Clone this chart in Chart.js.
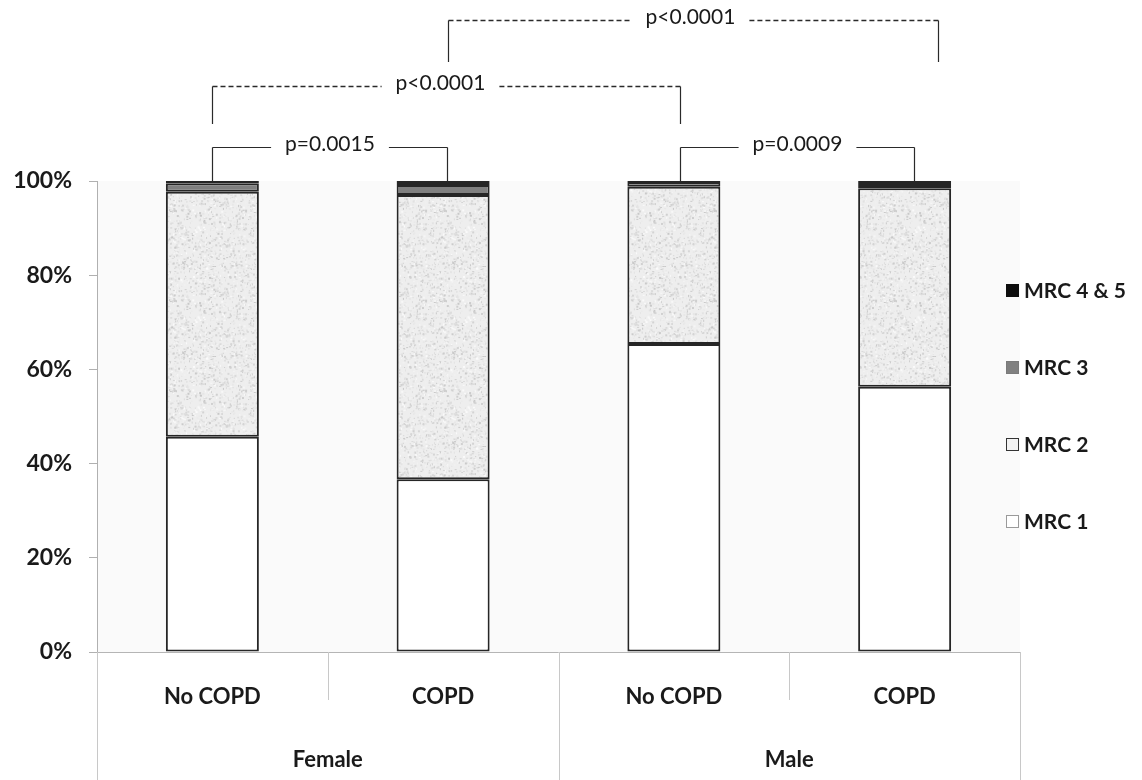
<!DOCTYPE html>
<html>
<head>
<meta charset="utf-8">
<script src="https://cdn.jsdelivr.net/npm/chart.js@4"></script>
<style>
  html, body { margin: 0; padding: 0; background: #ffffff; }
  #wrap { width: 1142px; height: 780px; position: relative; }
</style>
</head>
<body>
<div id="wrap"><canvas id="c" width="1142" height="780"></canvas></div>
<script>
// ---- data ----
const categories = ['No COPD', 'COPD', 'No COPD', 'COPD'];
const groups = ['Female', 'Male'];
const seriesNames = ['MRC 1', 'MRC 2', 'MRC 3', 'MRC 4 & 5'];
const mrc1 = [45.7, 36.7, 65.4, 56.3];
const mrc2 = [52.0, 60.35, 33.4, 42.15];
const mrc3 = [1.8, 2.1, 1.0, 0.7];
const mrc45 = [0.5, 0.85, 0.2, 0.85];
const yTickValues = [0, 20, 40, 60, 80, 100];
// significance brackets: [fromIndex, toIndex, label, dashed]
const brackets = [
  [0, 1, 'p=0.0015', false],
  [2, 3, 'p=0.0009', false],
  [0, 2, 'p<0.0001', true],
  [1, 3, 'p<0.0001', true]
];

// ---- speckle pattern for MRC 2 ----
function makeSpeckle() {
  const c = document.createElement('canvas');
  c.width = 90; c.height = 90;
  const g = c.getContext('2d');
  g.fillStyle = '#eeeeee';
  g.fillRect(0, 0, 90, 90);
  let s = 12345;
  const rnd = () => { s = (s * 1103515245 + 12345) % 2147483648; return s / 2147483648; };
  for (let i = 0; i < 1300; i++) {
    const x = rnd() * 90, y = rnd() * 90;
    const v = Math.floor(200 + rnd() * 52);
    g.fillStyle = 'rgb(' + v + ',' + v + ',' + v + ')';
    g.fillRect(x, y, 1 + Math.floor(rnd() * 2), 1 + Math.floor(rnd() * 2));
  }
  return g.createPattern(c, 'repeat');
}

const FONT = 'Lato, "Open Sans", "DejaVu Sans", sans-serif';

const bgPlugin = {
  id: 'bg',
  beforeDraw(chart) {
    const { ctx, chartArea: a } = chart;
    ctx.save();
    ctx.fillStyle = '#fafafa';
    ctx.fillRect(a.left, a.top, a.right - a.left, a.bottom - a.top);
    ctx.restore();
  }
};

const catAxisPlugin = {
  id: 'catAxis',
  afterDraw(chart) {
    const { ctx, chartArea: a } = chart;
    const xs = chart.scales.x;
    const H = chart.height;
    const n = categories.length;
    const w = (a.right - a.left) / n;
    ctx.save();
    ctx.strokeStyle = '#b5b5b5';
    ctx.lineWidth = 1;
    ctx.beginPath();
    ctx.moveTo(a.left, a.bottom + 0.5);
    ctx.lineTo(a.right, a.bottom + 0.5);
    ctx.stroke();
    ctx.strokeStyle = '#c8c8c8';
    for (let i = 0; i <= n; i++) {
      const x = Math.round(a.left + i * w) + 0.5;
      const full = (i % 2 === 0);
      ctx.beginPath();
      ctx.moveTo(x, a.bottom);
      ctx.lineTo(x, full ? H : a.bottom + 48);
      ctx.stroke();
    }
    ctx.fillStyle = '#1a1a1a';
    ctx.font = 'bold 22px ' + FONT;
    ctx.textAlign = 'center';
    ctx.textBaseline = 'middle';
    categories.forEach((lab, i) => {
      ctx.fillText(lab, xs.getPixelForValue(i), a.bottom + 45);
    });
    groups.forEach((g, gi) => {
      const cx = (xs.getPixelForValue(gi * 2) + xs.getPixelForValue(gi * 2 + 1)) / 2;
      ctx.fillText(g, cx, a.bottom + 108);
    });
    ctx.restore();
  }
};

const legendPlugin = {
  id: 'customLegend',
  afterDraw(chart) {
    const { ctx, chartArea: a } = chart;
    const ds = chart.data.datasets;
    ctx.save();
    ctx.font = 'bold 21px ' + FONT;
    ctx.textBaseline = 'middle';
    ctx.textAlign = 'left';
    const x0 = a.right - 14;
    const y0 = a.top + 109;
    const step = 77;
    const boxFill = ['#ffffff', '#f2f2f2', '#808080', '#0d0d0d'];
    const boxLine = ['#9a9a9a', '#333333', '#7a7a7a', '#0d0d0d'];
    for (let k = 0; k < ds.length; k++) {
      const i = ds.length - 1 - k;
      const y = y0 + k * step;
      ctx.fillStyle = boxFill[i];
      ctx.fillRect(x0, y - 6, 13, 13);
      ctx.strokeStyle = boxLine[i];
      ctx.lineWidth = 1;
      ctx.strokeRect(x0 + 0.5, y - 5.5, 12, 12);
      ctx.fillStyle = '#1a1a1a';
      ctx.fillText(ds[i].label, x0 + 18, y + 1);
    }
    ctx.restore();
  }
};

const bracketPlugin = {
  id: 'brackets',
  afterDraw(chart) {
    const { ctx, chartArea: a } = chart;
    const xs = chart.scales.x;
    // per-bracket geometry: [xOffsetFrom, xOffsetTo, lineY(rel top), endY(rel top)]
    const geom = [
      [0, 4, -34, 0],
      [6, 9, -34, 0],
      [0, 6, -95, -57],
      [5, 33, -161, -119]
    ];
    ctx.save();
    ctx.font = '21px ' + FONT;
    ctx.textAlign = 'center';
    ctx.textBaseline = 'middle';
    brackets.forEach((b, k) => {
      const [i0, i1, label, dashed] = b;
      const g = geom[k];
      const x0 = Math.round(xs.getPixelForValue(i0) + g[0]) + 0.5;
      const x1 = Math.round(xs.getPixelForValue(i1) + g[1]) + 0.5;
      const yl = Math.round(a.top + g[2]) + 0.5;
      const ye = a.top + g[3];
      const tw = ctx.measureText(label).width;
      const cx = (x0 + x1) / 2 + (k === 3 ? -3 : (k === 2 ? -6 : 0));
      const gap = tw / 2 + 14;
      ctx.strokeStyle = '#2a2a2a';
      ctx.lineWidth = 1.2;
      ctx.setLineDash([]);
      ctx.beginPath();
      ctx.moveTo(x0, yl); ctx.lineTo(x0, ye);
      ctx.moveTo(x1, yl); ctx.lineTo(x1, ye);
      ctx.stroke();
      ctx.lineWidth = dashed ? 1.6 : 1.2;
      ctx.setLineDash(dashed ? [5, 3] : []);
      ctx.beginPath();
      ctx.moveTo(x0, yl); ctx.lineTo(cx - gap, yl);
      ctx.moveTo(cx + gap, yl); ctx.lineTo(x1, yl);
      ctx.stroke();
      ctx.setLineDash([]);
      ctx.fillStyle = '#1a1a1a';
      ctx.fillText(label, cx, yl - 3);
    });
    ctx.restore();
  }
};

function build() {
  const speckle = makeSpeckle();
  const fills = ['#ffffff', speckle, '#808080', '#111111'];
  const values = [mrc1, mrc2, mrc3, mrc45];
  new Chart(document.getElementById('c'), {
    type: 'bar',
    data: {
      labels: categories,
      datasets: values.map((v, i) => ({
        label: seriesNames[i],
        data: v,
        backgroundColor: fills[i],
        borderColor: '#262626',
        borderWidth: 2,
        borderSkipped: false,
        barPercentage: 0.403,
        categoryPercentage: 1.0
      }))
    },
    options: {
      responsive: false,
      animation: false,
      events: [],
      layout: { padding: { top: 181, right: 122, left: 0, bottom: 0 } },
      plugins: { legend: { display: false }, tooltip: { enabled: false } },
      scales: {
        x: {
          stacked: true,
          grid: { display: false },
          border: { display: false },
          ticks: { display: false },
          afterFit(s) { s.height = 128; }
        },
        y: {
          stacked: true,
          min: 0,
          max: 100,
          afterBuildTicks(s) { s.ticks = yTickValues.map(v => ({ value: v })); },
          ticks: {
            callback: v => v + '%',
            color: '#1a1a1a',
            font: { family: FONT, size: 23, weight: 'bold' },
            padding: 17
          },
          grid: { drawOnChartArea: false, tickLength: 8, color: '#b0b0b0' },
          border: { color: '#b0b0b0' },
          afterFit(s) { s.width = 97; }
        }
      }
    },
    plugins: [bgPlugin, catAxisPlugin, legendPlugin, bracketPlugin]
  });
}

if (document.fonts && document.fonts.load) {
  Promise.all([
    document.fonts.load('bold 20px Lato'),
    document.fonts.load('18px Lato')
  ]).then(build, build);
} else {
  build();
}
</script>
</body>
</html>
